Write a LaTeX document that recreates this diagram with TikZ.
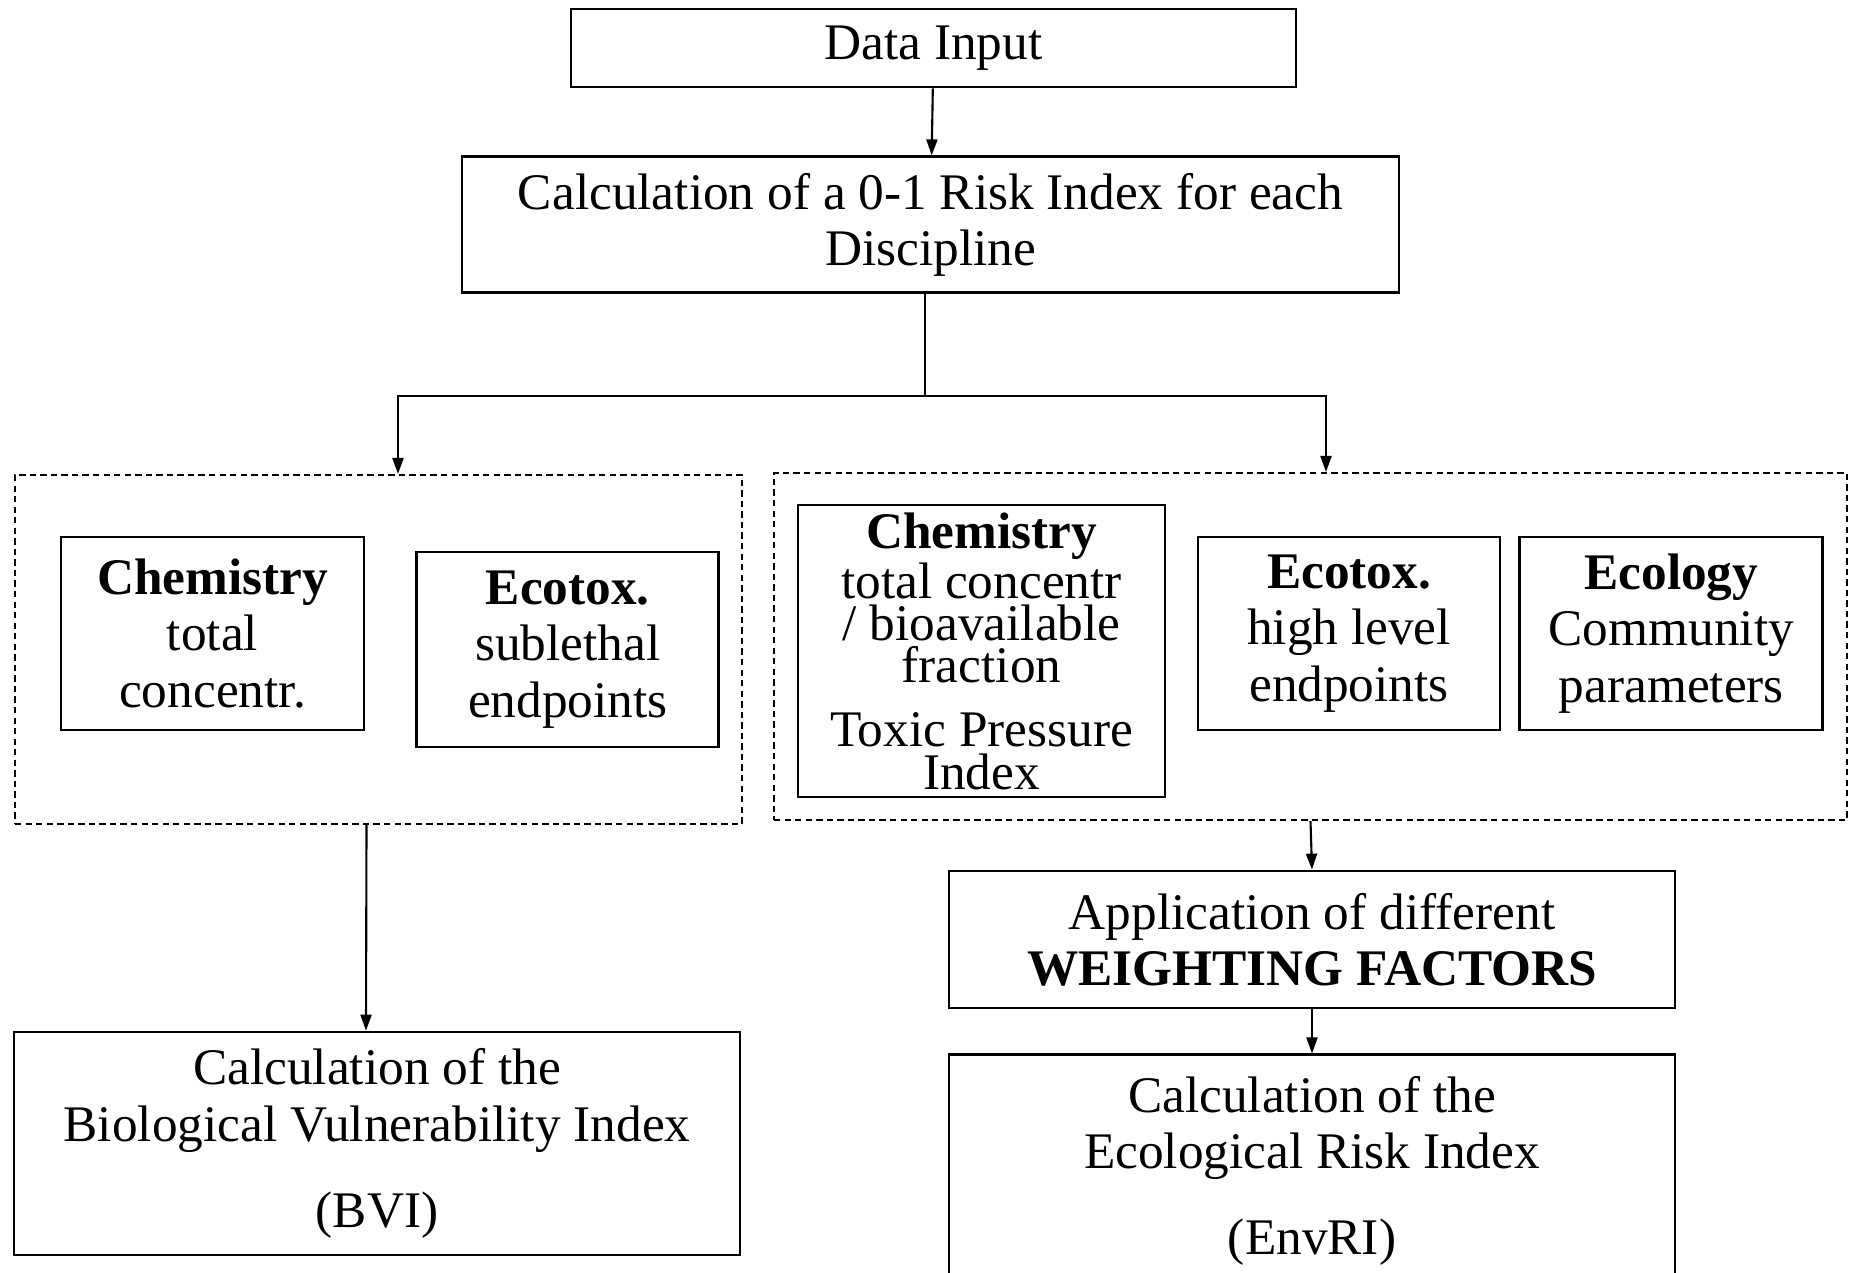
\documentclass[tikz,border=0pt]{standalone}
\usepackage{fontspec}
\setmainfont{Liberation Serif}
\usepackage{tikz}
\usetikzlibrary{arrows.meta,positioning}

\begin{document}
\begin{tikzpicture}[
  font=\fontsize{14.6}{16}\selectfont,
  node distance=5mm,
  box/.style={draw,line width=0.8pt,align=center,inner sep=2pt},
  grp/.style={draw,dash pattern=on 1.8pt off 1.2pt,line width=0.6pt},
  arr/.style={-{Triangle[length=1.6mm,width=1.1mm]},line width=0.6pt},
  link/.style={line width=0.6pt}
]
  \useasboundingbox (0,0) rectangle (18.53,-12.72);
  \clip (0,0) rectangle (18.53,-12.72);
  % top of the chart
  \node[box,minimum width=7.25cm,minimum height=0.78cm] (input) at (9.335,-0.48) {Data Input};
  \node[box,minimum width=9.37cm,minimum height=1.36cm,below=0.67cm of input,xshift=-0.3mm] (calc) {Calculation of a 0-1 Risk Index for each\\Discipline};
  \coordinate[below=1.02cm of calc,xshift=-0.55mm] (split);
  % the two groups
  \node[grp,minimum width=7.27cm,minimum height=3.49cm] (lgrp) at (3.785,-6.495) {};
  \node[grp,minimum width=10.73cm,minimum height=3.47cm] (rgrp) at (13.105,-6.465) {};
  \node[box,minimum width=3.03cm,minimum height=1.93cm] (lchem) at (2.125,-6.335) {\textbf{Chemistry}\\total\\concentr.};
  \node[box,minimum width=3.02cm,minimum height=1.95cm,right=0.50cm of lchem,yshift=-0.16cm] (ltox) {\textbf{Ecotox.}\\sublethal\\endpoints};
  \node[box,minimum width=3.67cm,minimum height=2.92cm,font=\fontsize{14.6}{12}\selectfont] (rchem) at (9.815,-6.51) {\textbf{Chemistry}\\total concentr\\/ bioavailable\\fraction\\[2.2mm]Toxic Pressure\\Index};
  \node[box,minimum width=3.02cm,minimum height=1.93cm] (rtox) at (13.49,-6.335) {\textbf{Ecotox.}\\high level\\endpoints};
  \node[box,minimum width=3.03cm,minimum height=1.93cm,right=0.17cm of rtox] (recol) {\textbf{Ecology}\\Community\\parameters};
  % results
  \node[box,minimum width=7.26cm,minimum height=2.23cm] (bvi) at (3.77,-11.435) {Calculation of the\\Biological Vulnerability Index\\[3mm](BVI)};
  \node[box,minimum width=7.26cm,minimum height=1.37cm] (weight) at (13.12,-9.395) {Application of different\\\textbf{WEIGHTING FACTORS}};
  \node[box,minimum width=7.26cm,minimum height=2.32cm,below=0.44cm of weight] (envri) {Calculation of the\\Ecological Risk Index\\[3mm](EnvRI)};
  % connectors
  \draw[arr] (input) -- (calc);
  \draw[link] (split |- calc.south) -- (split);
  \draw[arr] (split) -| ([xshift=1.95mm]lgrp.north);
  \draw[arr] (split) -| ([xshift=1.55mm]rgrp.north);
  \draw[arr] ([xshift=-1.2mm]lgrp.south) -- ([xshift=-1.1mm]bvi.north);
  \draw[arr] (rgrp.south) -- (weight.north);
  \draw[arr] (weight) -- (envri);
\end{tikzpicture}
\end{document}
